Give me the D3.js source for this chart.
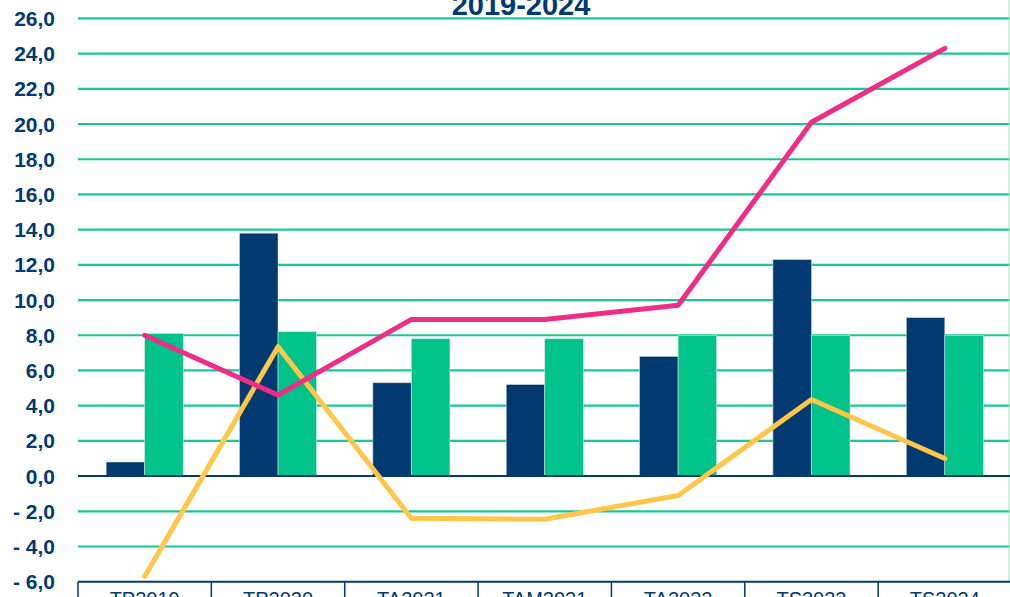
<!DOCTYPE html>
<html>
<head>
<meta charset="utf-8">
<script src="https://cdn.jsdelivr.net/npm/d3@7"></script>
<style>
  body { margin: 0; background: #fff; }
  svg { display: block; }
</style>
</head>
<body>
<svg id="screen" width="1010" height="597"></svg>
<script>
const screenEl = document.querySelector("#screen");

//data
const categories = ["TP2019", "TP2020", "TA2021", "TAM2021", "TA2022", "TS2023", "TS2024"];
const navyBars = [0.8, 13.8, 5.3, 5.2, 6.8, 12.3, 9.0];
const greenBars = [8.1, 8.2, 7.8, 7.8, 8.0, 8.0, 8.0];
const pinkLine = [8.0, 4.6, 8.9, 8.9, 9.7, 20.1, 24.3];
const yellowLine = [-5.7, 7.35, -2.4, -2.45, -1.1, 4.35, 1.0];
const yTicks = [-6, -4, -2, 0, 2, 4, 6, 8, 10, 12, 14, 16, 18, 20, 22, 24, 26];

//colors
const navy = "#003a70";
const green = "#00c389";
const pink = "#ee2d87";
const yellow = "#ffc64a";

const svg = d3.select(screenEl);
const fontFam = "'Liberation Sans', Arial, sans-serif";

const x = d3.scaleBand().domain(categories).range([78, 1011.5]).padding(0);
const y = d3.scaleLinear().domain([-6, 26]).range([581.7, 18.4]);
const barW = x.bandwidth() * 0.289;

//title (first line is outside the frame)
svg.append("text")
  .attr("x", 521).attr("y", 15)
  .attr("text-anchor", "middle")
  .attr("font-family", fontFam).attr("font-weight", "bold")
  .attr("font-size", 29).attr("fill", navy)
  .text("2019-2024");

//grid lines
svg.append("g").selectAll("line")
  .data(yTicks.filter(d => d !== 0 && d !== -6))
  .join("line")
  .attr("x1", 78).attr("x2", 1010)
  .attr("y1", d => y(d)).attr("y2", d => y(d))
  .attr("stroke", green).attr("stroke-width", 2.2).attr("opacity", 0.9);

//right border
svg.append("line")
  .attr("x1", 1009).attr("x2", 1009).attr("y1", 0).attr("y2", 582)
  .attr("stroke", "#9fe2c8").attr("stroke-width", 1);

//y tick labels
svg.append("g").selectAll("text")
  .data(yTicks)
  .join("text")
  .attr("x", 55).attr("y", d => y(d) + 7.5)
  .attr("text-anchor", "end")
  .attr("font-family", fontFam).attr("font-weight", "bold")
  .attr("font-size", 21).attr("fill", navy)
  .text(d => (d < 0 ? "- " : "") + d3.format(".1f")(Math.abs(d)).replace(".", ","));

//bars
const bars = svg.append("g");
bars.selectAll(".navy")
  .data(navyBars)
  .join("rect").attr("class", "navy")
  .attr("x", (d, i) => x(categories[i]) + x.bandwidth() / 2 - barW)
  .attr("width", barW)
  .attr("y", d => y(Math.max(0, d)))
  .attr("height", d => Math.abs(y(d) - y(0)))
  .attr("fill", navy).attr("stroke", "#c9d6e2").attr("stroke-width", 0.6);
bars.selectAll(".green")
  .data(greenBars)
  .join("rect").attr("class", "green")
  .attr("x", (d, i) => x(categories[i]) + x.bandwidth() / 2)
  .attr("width", barW)
  .attr("y", d => y(Math.max(0, d)))
  .attr("height", d => Math.abs(y(d) - y(0)))
  .attr("fill", green).attr("stroke", "#c9e6dc").attr("stroke-width", 0.6);

//zero line
svg.append("line")
  .attr("x1", 78).attr("x2", 1010)
  .attr("y1", y(0)).attr("y2", y(0))
  .attr("stroke", navy).attr("stroke-width", 2);

//category axis at bottom
const xAxis = svg.append("g");
xAxis.append("line")
  .attr("x1", 78).attr("x2", 1010)
  .attr("y1", y(-6)).attr("y2", y(-6))
  .attr("stroke", navy).attr("stroke-width", 2);
xAxis.selectAll(".tick")
  .data(categories.map(c => x(c)))
  .join("line").attr("class", "tick")
  .attr("x1", d => d).attr("x2", d => d)
  .attr("y1", y(-6)).attr("y2", 597)
  .attr("stroke", navy).attr("stroke-width", 1.5);
xAxis.selectAll("text")
  .data(categories)
  .join("text")
  .attr("x", d => x(d) + x.bandwidth() / 2).attr("y", 606)
  .attr("text-anchor", "middle")
  .attr("font-family", fontFam)
  .attr("font-size", 20).attr("fill", navy)
  .text(d => d);

//lines
const line = d3.line()
  .x((d, i) => x(categories[i]) + x.bandwidth() / 2)
  .y(d => y(d));

svg.append("path").datum(yellowLine)
  .attr("d", line).attr("fill", "none")
  .attr("stroke", yellow).attr("stroke-width", 5)
  .attr("stroke-linecap", "round").attr("stroke-linejoin", "round");
svg.append("path").datum(pinkLine)
  .attr("d", line).attr("fill", "none")
  .attr("stroke", pink).attr("stroke-width", 5)
  .attr("stroke-linecap", "round").attr("stroke-linejoin", "round");
</script>
</body>
</html>
